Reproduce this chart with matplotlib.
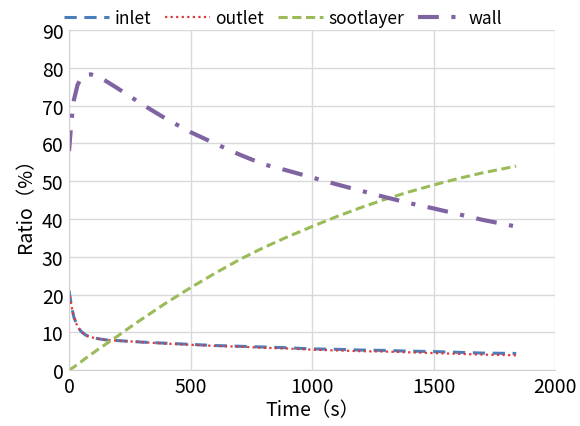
import matplotlib
matplotlib.use("Agg")
import matplotlib.pyplot as plt
import numpy as np

plt.rcParams['font.family'] = ['Noto Sans CJK SC', 'DejaVu Sans']

# ── data ─────────────────────────────────────────────────────────────────────
time = [0, 10, 20, 35, 50, 70, 90, 120, 150, 200, 250, 300, 400, 500, 600, 700, 800,
        900, 1000, 1100, 1200, 1300, 1400, 1500, 1600, 1700, 1840]
inlet = [21.0, 17.0, 14.0, 11.5, 10.2, 9.2, 8.7, 8.3, 8.0, 7.8, 7.6, 7.4, 7.1, 6.8, 6.5,
         6.3, 6.1, 5.9, 5.6, 5.5, 5.3, 5.2, 5.0, 4.9, 4.7, 4.5, 4.4]
outlet = [21.0, 17.0, 14.0, 11.5, 10.2, 9.2, 8.7, 8.3, 8.0, 7.8, 7.6, 7.4, 7.0, 6.7, 6.4,
          6.2, 5.9, 5.7, 5.4, 5.2, 5.0, 4.9, 4.7, 4.5, 4.3, 4.1, 3.9]
sootlayer = [0.0, 0.4, 0.8, 1.5, 2.2, 3.2, 4.1, 5.5, 6.8, 9.0, 11.3, 13.5, 17.8, 21.8, 25.6,
             29.2, 32.4, 35.3, 38.0, 40.6, 43.0, 45.2, 47.2, 49.0, 50.7, 52.2, 54.0]
wall = [58.0, 66.0, 71.5, 75.5, 77.3, 78.2, 78.3, 77.6, 76.6, 74.6, 72.5, 70.4, 66.5, 63.0,
        60.0, 57.1, 54.5, 52.8, 51.0, 49.2, 47.5, 45.8, 44.2, 42.8, 41.3, 39.8, 38.0]

BLUE = "#4a7ebb"
RED = "#e0383b"
GREEN = "#9bbb59"
PURPLE = "#8064a2"

fig = plt.figure(figsize=(5.8, 4.27), dpi=100)
ax = fig.add_axes([0.119, 0.131, 0.838, 0.796])

ax.plot(time, inlet, color=BLUE, lw=2.2, linestyle=(0, (4, 2.5)), label="inlet")
ax.plot(time, outlet, color=RED, lw=1.6, linestyle=(0, (1, 1.5)), label="outlet")
ax.plot(time, sootlayer, color=GREEN, lw=2.2, linestyle=(0, (3, 1.5)), label="sootlayer")
ax.plot(time, wall, color=PURPLE, lw=3, linestyle=(0, (5, 3, 1, 3)), label="wall")

ax.set_xlim(0, 2000)
ax.set_ylim(0, 90)
ax.set_xticks(np.arange(0, 2001, 500))
ax.set_yticks(np.arange(0, 91, 10))
ax.tick_params(labelsize=14, length=0, pad=4)
ax.grid(color="#d9d9d9", lw=1)
ax.set_axisbelow(True)
for side in ["top", "right"]:
    ax.spines[side].set_visible(False)
for side in ["left", "bottom"]:
    ax.spines[side].set_color("#d0d0d0")

ax.set_xlabel("Time（s）", fontsize=14, labelpad=2)
ax.set_ylabel("Ratio（%）", fontsize=14, labelpad=4)

ax.legend(loc="lower center", bbox_to_anchor=(0.44, 0.99), ncol=4, frameon=False,
          fontsize=12.5, handlelength=2.6, handletextpad=0.3, columnspacing=0.8,
          borderaxespad=0)

fig.savefig("out.png", dpi=100)
